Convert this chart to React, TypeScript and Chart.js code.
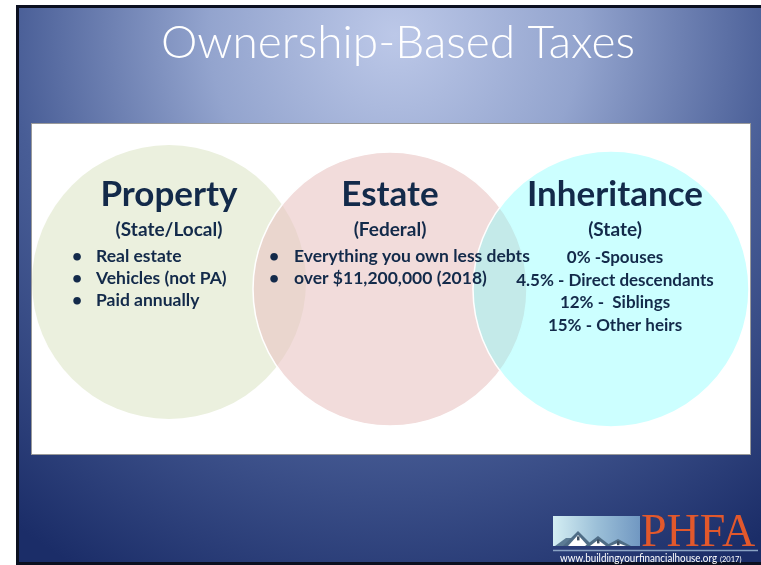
import React, { useEffect, useRef } from 'react';
import { Chart, registerables } from 'chart.js';

Chart.register(...registerables);

const W = 761;
const H = 565;

// ---- data ----
const categories = ['Property', 'Estate', 'Inheritance'];
const subtitles = ['(State/Local)', '(Federal)', '(State)'];
const centerX = [169, 390, 611];
const centerY = [282, 289, 289];
const radii = [137, 137, 138];
const propertyBullets = ['Real estate', 'Vehicles (not PA)', 'Paid annually'];
const estateBullets = ['Everything you own less debts', 'over $11,200,000 (2018)'];
const inheritanceRates = ['0% -Spouses', '4.5% - Direct descendants', '12% -  Siblings', '15% - Other heirs'];
const titleText = 'Ownership-Based Taxes';
const logoText = 'PHFA';
const urlText = 'www.buildingyourfinancialhouse.org';
const yearText = '(2017)';

const FILLS = ['rgba(235,240,222,1)', 'rgba(233,197,195,0.6)', 'rgba(127,255,255,0.4)'];
const NAVY = '#132a4a';
const FONT = 'Lato, "Open Sans", "DejaVu Sans", sans-serif';

function text(ctx: CanvasRenderingContext2D, s: string, x: number, y: number, font: string, color: string, align: CanvasTextAlign = 'left', maxW?: number) {
  ctx.font = font;
  ctx.fillStyle = color;
  ctx.textAlign = align;
  ctx.textBaseline = 'alphabetic';
  if (maxW) ctx.fillText(s, x, y, maxW);
  else ctx.fillText(s, x, y);
}

const slidePlugin = {
  id: 'slide',
  beforeDraw(chart: any) {
    const ctx: CanvasRenderingContext2D = chart.ctx;
    ctx.save();
    ctx.fillStyle = '#ffffff';
    ctx.fillRect(0, 0, W, H);
    const g = ctx.createRadialGradient(395, 35, 0, 395, 35, 620);
    g.addColorStop(0, '#bcc8e8');
    g.addColorStop(0.3, '#93a4ce');
    g.addColorStop(0.62, '#485d96');
    g.addColorStop(1, '#1b2d68');
    ctx.fillStyle = g;
    ctx.fillRect(16, 5, W - 16, H - 5);
    // dark frame
    ctx.fillStyle = '#0b1020';
    ctx.fillRect(16, 5, 3, H - 5);
    ctx.fillRect(16, 5, W - 16, 3);
    ctx.fillRect(16, H - 3, W - 16, 3);
    // white panel
    ctx.fillStyle = '#ffffff';
    ctx.fillRect(31, 123, 720, 332);
    ctx.strokeStyle = '#9a9a9a';
    ctx.lineWidth = 1;
    ctx.strokeRect(31.5, 123.5, 719, 331);
    ctx.restore();
  },
  afterDatasetsDraw(chart: any) {
    const ctx: CanvasRenderingContext2D = chart.ctx;
    const xs = chart.scales.x;
    ctx.save();
    // title
    text(ctx, titleText, 398, 58, `300 46px ${FONT}`, '#ffffff', 'center');

    // headings
    categories.forEach((c, i) => {
      const cx = xs.getPixelForValue(centerX[i]) + (i === 2 ? 4 : 0);
      text(ctx, c, cx, 206, `bold 35px ${FONT}`, NAVY, 'center');
      text(ctx, subtitles[i], cx, 236, `bold 19px ${FONT}`, NAVY, 'center');
    });

    const bf = `bold 17.5px ${FONT}`;
    propertyBullets.forEach((s, i) => {
      const y = 262 + i * 22;
      text(ctx, '•', 77, y, bf, NAVY, 'center');
      text(ctx, s, 96, y, bf, NAVY, 'left');
    });
    estateBullets.forEach((s, i) => {
      const y = 262 + i * 22;
      text(ctx, '•', 274, y, bf, NAVY, 'center');
      text(ctx, s, 294, y, bf, NAVY, 'left');
    });
    inheritanceRates.forEach((s, i) => {
      const y = 263 + i * 22.7;
      text(ctx, s, 615, y, `bold 17px ${FONT}`, NAVY, 'center');
    });

    // logo
    const lg = ctx.createLinearGradient(553, 0, 640, 0);
    lg.addColorStop(0, '#d4eef3');
    lg.addColorStop(0.5, '#9cc0d8');
    lg.addColorStop(1, '#7198c2');
    ctx.fillStyle = lg;
    ctx.fillRect(553, 516, 87, 30);
    const house = (l: number, peakX: number, peakY: number, r: number) => {
      ctx.fillStyle = '#4f6d86';
      ctx.beginPath();
      ctx.moveTo(l, 546);
      ctx.lineTo(peakX, peakY);
      ctx.lineTo(r, 546);
      ctx.closePath();
      ctx.fill();
      ctx.fillStyle = '#ffffff';
      ctx.beginPath();
      ctx.moveTo(l + 5, 546);
      ctx.lineTo(peakX, peakY + 4);
      ctx.lineTo(r - 5, 546);
      ctx.closePath();
      ctx.fill();
      ctx.fillStyle = '#3d4f60';
      ctx.fillRect(peakX - 1, 537 + (peakY - 532) * 0.6, 2.5, 4);
    };
    ctx.fillStyle = '#5b7b94';
    ctx.beginPath();
    ctx.moveTo(555, 546);
    ctx.lineTo(566, 538);
    ctx.lineTo(578, 538);
    ctx.lineTo(578, 546);
    ctx.closePath();
    ctx.fill();
    house(563, 578, 531, 593);
    house(585, 598, 536, 611);
    house(605, 618, 539, 631);
    text(ctx, logoText, 641, 546, `46px "Liberation Serif", "DejaVu Serif", serif`, '#e2582c', 'left');
    ctx.strokeStyle = '#8aa3c4';
    ctx.lineWidth = 1.5;
    ctx.beginPath();
    ctx.moveTo(553, 550.5);
    ctx.lineTo(758, 550.5);
    ctx.stroke();
    text(ctx, urlText, 560, 562, `11px ${FONT}`, '#ffffff', 'left', 157);
    text(ctx, yearText, 720, 562, `7.5px ${FONT}`, '#ffffff', 'left', 26);
    ctx.restore();
  },
};

export default function App() {
  const ref = useRef<HTMLCanvasElement | null>(null);
  useEffect(() => {
    document.body.style.margin = '0';
    if (!ref.current) return;
    const chart = new Chart(ref.current, {
      type: 'bubble',
      data: {
        labels: categories,
        datasets: [
          {
            label: 'Taxes',
            data: categories.map((_, i) => ({ x: centerX[i], y: centerY[i], r: radii[i] })),
            backgroundColor: FILLS,
            borderColor: ['rgba(255,255,255,0)', '#ffffff', '#ffffff'],
            borderWidth: 1.5,
            hoverRadius: 0,
            clip: false as any,
          },
        ],
      },
      options: {
        animation: false,
        responsive: false,
        devicePixelRatio: 1,
        layout: { padding: 0, autoPadding: false },
        events: [],
        plugins: { legend: { display: false }, tooltip: { enabled: false }, title: { display: false } },
        scales: {
          x: { type: 'linear', min: 0, max: W, display: false },
          y: { type: 'linear', min: 0, max: H, reverse: true, display: false },
        },
      },
      plugins: [slidePlugin],
    });
    return () => chart.destroy();
  }, []);
  return (
    <div style={{ width: W, height: H }}>
      <canvas ref={ref} width={W} height={H} style={{ display: 'block' }} />
    </div>
  );
}
